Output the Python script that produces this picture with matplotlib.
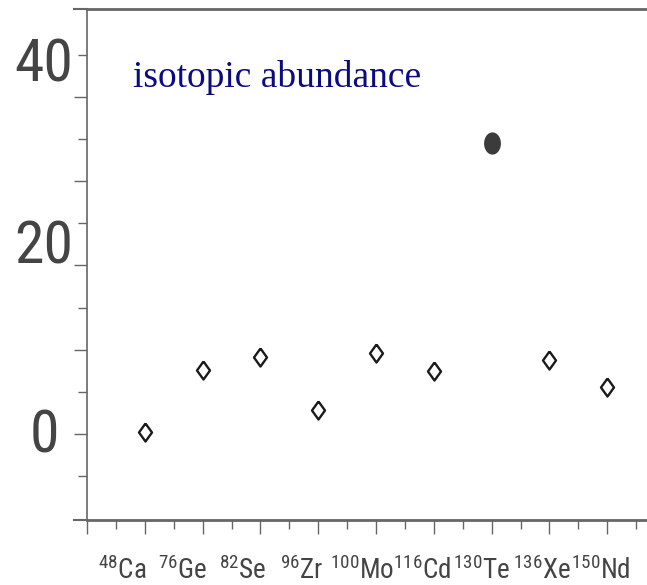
import matplotlib
matplotlib.use("Agg")
import matplotlib.pyplot as plt
from matplotlib import font_manager
from matplotlib.markers import MarkerStyle
from matplotlib.transforms import ScaledTranslation
import numpy as np

# isotope labels and their natural abundance (%)
mass_numbers = ["48", "76", "82", "96", "100", "116", "130", "136", "150"]
elements = ["Ca", "Ge", "Se", "Zr", "Mo", "Cd", "Te", "Xe", "Nd"]
abundance = [0.2, 7.6, 9.1, 2.8, 9.6, 7.5, 34.5, 8.8, 5.6]
highlight = "Te"

y_tick_values = [0, 20, 40]

available = {f.name for f in font_manager.fontManager.ttflist}
sans = "Roboto Condensed" if "Roboto Condensed" in available else "Liberation Sans"

plt.rcParams["font.family"] = [sans, "DejaVu Sans"]
plt.rcParams["mathtext.fontset"] = "custom"
plt.rcParams["mathtext.rm"] = sans
plt.rcParams["mathtext.it"] = sans
plt.rcParams["mathtext.bf"] = sans

W, H, DPI = 647, 585, 100
fig = plt.figure(figsize=(W / DPI, H / DPI), dpi=DPI)
ax = fig.add_axes([87 / W, 65 / H, 578 / W, 511 / H])

axis_col = "#666666"
text_col = "#444444"

x = np.arange(1, len(elements) + 1)
open_mask = [e != highlight for e in elements]

diamond = MarkerStyle([(0, 1), (0.72, 0), (0, -1), (-0.72, 0), (0, 1)])
t = np.linspace(0, 2 * np.pi, 60)
oval = MarkerStyle(list(zip(0.74 * np.cos(t), np.sin(t))))

xo = [xi for xi, m in zip(x, open_mask) if m]
yo = [yi for yi, m in zip(abundance, open_mask) if m]
xf = [xi for xi, m in zip(x, open_mask) if not m]
yf = [yi for yi, m in zip(abundance, open_mask) if not m]

ax.plot(xo, yo, linestyle="none", marker=diamond, markersize=13,
        markerfacecolor="white", markeredgecolor="#1a1a1a", markeredgewidth=1.7)
ax.plot(xf, yf, linestyle="none", marker=oval, markersize=15,
        markerfacecolor="#3b3b3b", markeredgecolor="#3b3b3b", markeredgewidth=1)

ax.set_xlim(0, 10)
ax.set_ylim(-10.2, 50.4)

ax.spines["right"].set_visible(False)
ax.spines["left"].set_color(axis_col)
ax.spines["left"].set_linewidth(1.2)
ax.spines["bottom"].set_color(axis_col)
ax.spines["bottom"].set_linewidth(2.0)
ax.spines["top"].set_color(axis_col)
ax.spines["top"].set_linewidth(2.0)

# frame lines reach past the left axis by one tick length
ext = 13 / 578
ax.plot([-ext, 0], [0, 0], transform=ax.transAxes, color=axis_col, lw=1.5, clip_on=False)
ax.plot([-ext, 0], [1, 1], transform=ax.transAxes, color=axis_col, lw=1.5, clip_on=False)

# y axis
major_y = [0, 10, 20, 30, 40]
ax.set_yticks(major_y)
ax.set_yticklabels([str(v) if v in y_tick_values else "" for v in major_y])
ax.set_yticks([-5, 5, 15, 25, 35, 45], minor=True)
ax.tick_params(axis="y", which="major", length=9.4, width=1.0, color=axis_col,
               labelsize=43, labelcolor=text_col, pad=21.6)
ax.tick_params(axis="y", which="minor", length=6.5, width=1.0, color=axis_col)
y_shift = {"0": 4, "20": 24, "40": 38}
for lab in ax.get_yticklabels():
    lab.set_horizontalalignment("center")
    s = lab.get_text()
    if s in y_shift:
        lab.set_transform(lab.get_transform() +
                          ScaledTranslation(0, y_shift[s] / DPI, fig.dpi_scale_trans))

# x axis
ax.set_xticks(np.arange(0, 11))
ax.set_xticks(np.arange(0.5, 10.5, 1.0), minor=True)
labels = [""] + [r"$^{%s}$%s" % (m, e) for m, e in zip(mass_numbers, elements)] + [""]
ax.set_xticklabels(labels)
ax.tick_params(axis="x", which="major", length=10, width=1.0, color=axis_col,
               labelsize=19.5, labelcolor=text_col, pad=16)
ax.tick_params(axis="x", which="minor", length=6.5, width=1.0, color=axis_col)
for i, lab in enumerate(ax.get_xticklabels()):
    dx = -22 + 2 * (i - 1)
    lab.set_transform(lab.get_transform() +
                      ScaledTranslation(dx / DPI, 0, fig.dpi_scale_trans))

fig.text(133 / W, 1 - 87 / H, "isotopic abundance",
         family="Liberation Serif", fontsize=27, color="#0b0b80",
         ha="left", va="baseline")

fig.savefig("out.png", dpi=DPI)
